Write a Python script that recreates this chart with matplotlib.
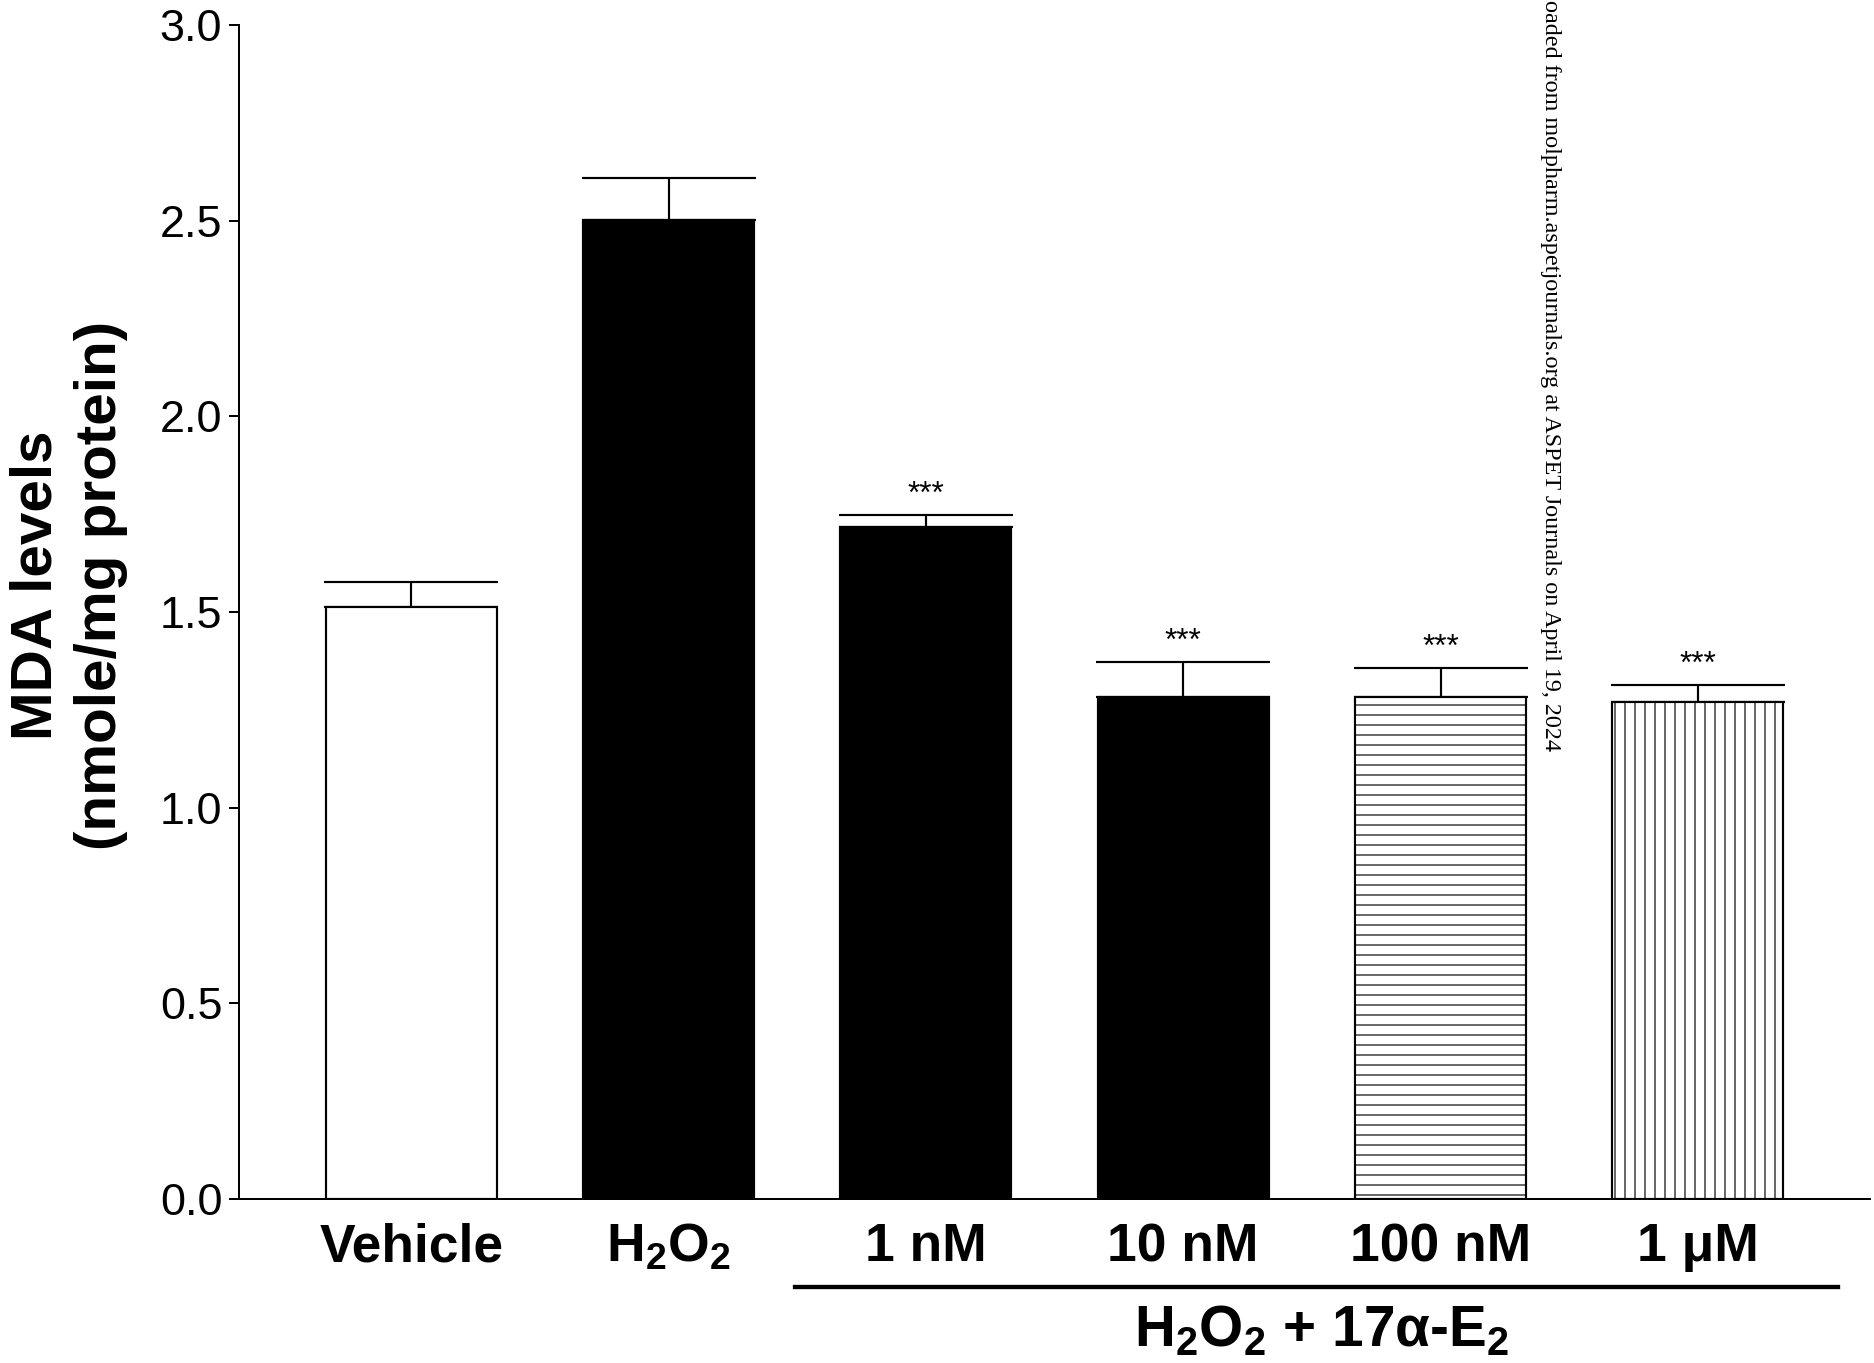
"""MDA levels after H2O2 with 17alpha-estradiol treatment."""
import numpy as np
import matplotlib
matplotlib.use("Agg")
import matplotlib.pyplot as plt

plt.rcParams["font.family"] = ["Liberation Sans", "DejaVu Sans"]
plt.rcParams["mathtext.fontset"] = "custom"
plt.rcParams["mathtext.rm"] = "Liberation Sans:bold"
plt.rcParams["mathtext.it"] = "Liberation Sans:bold"
plt.rcParams["mathtext.bf"] = "Liberation Sans:bold"
plt.rcParams["mathtext.default"] = "rm"
plt.rcParams["hatch.linewidth"] = 0.7

groups = ["Vehicle", r"$H_2O_2$", "1 nM", "10 nM", "100 nM", "1 μM"]
mda = [1.512, 2.502, 1.718, 1.282, 1.284, 1.269]
sem = [0.064, 0.106, 0.030, 0.091, 0.072, 0.044]
significant = [False, False, True, True, True, True]
faces = ["white", "black", "black", "black", "white", "white"]
hatches = [None, None, None, None, "--", "||"]

DPI = 120
W, H = 1874, 1363
fig = plt.figure(figsize=(W / DPI, H / DPI), dpi=DPI)
ax = fig.add_axes([0.1275, 0.1203, 0.8705, 0.8614])

x = np.arange(len(groups))
bars = ax.bar(x, mda, width=0.665, color=faces, edgecolor="black",
              linewidth=1.3, zorder=2)
for b, h in zip(bars, hatches):
    if h:
        b.set_hatch(h)

ax.errorbar(x, mda, yerr=[np.zeros(len(sem)), sem], fmt="none",
            ecolor="black", elinewidth=1.3, capsize=52, capthick=1.3,
            zorder=1)

for xi, m, s, sig in zip(x, mda, sem, significant):
    if sig:
        ax.annotate("***", (xi, m + s), xytext=(0, 3),
                    textcoords="offset points", ha="center", va="bottom",
                    fontsize=19)

ax.set_xlim(-0.67, 5.67)
ax.set_ylim(0, 3.0)
ax.set_yticks(np.arange(0, 3.01, 0.5))
ax.set_yticklabels([f"{v:.1f}" for v in np.arange(0, 3.01, 0.5)])
ax.tick_params(axis="y", length=6, width=1.2, pad=4, labelsize=27)
ax.tick_params(axis="x", length=0, pad=14)
ax.set_xticks(x)
ax.set_xticklabels(groups, fontsize=32, fontweight="bold")

for side in ("top", "right"):
    ax.spines[side].set_visible(False)
for side in ("left", "bottom"):
    ax.spines[side].set_linewidth(1.2)

fig.text(69 / W, 1 - 585 / H, "MDA levels\n(nmole/mg protein)",
         rotation=90, ha="center", va="center", multialignment="center",
         fontsize=35, fontweight="bold", linespacing=1.25)

# bracket under the estradiol doses
fig.add_artist(plt.Line2D([795 / W, 1838 / W], [1 - 1287 / H, 1 - 1287 / H],
                          color="black", linewidth=2.6))
fig.text(1322 / W, 1 - 1331 / H, r"$H_2O_2\text{ + 17}\alpha\text{-}E_2$",
         ha="center", va="center", fontsize=34)

fig.text(1550 / W, 1.0,
         "oaded from molpharm.aspetjournals.org at ASPET Journals on April 19, 2024",
         rotation=-90, ha="center", va="top", fontsize=14.5,
         family=["Liberation Serif", "DejaVu Serif"])

fig.savefig("out.png", dpi=DPI)
